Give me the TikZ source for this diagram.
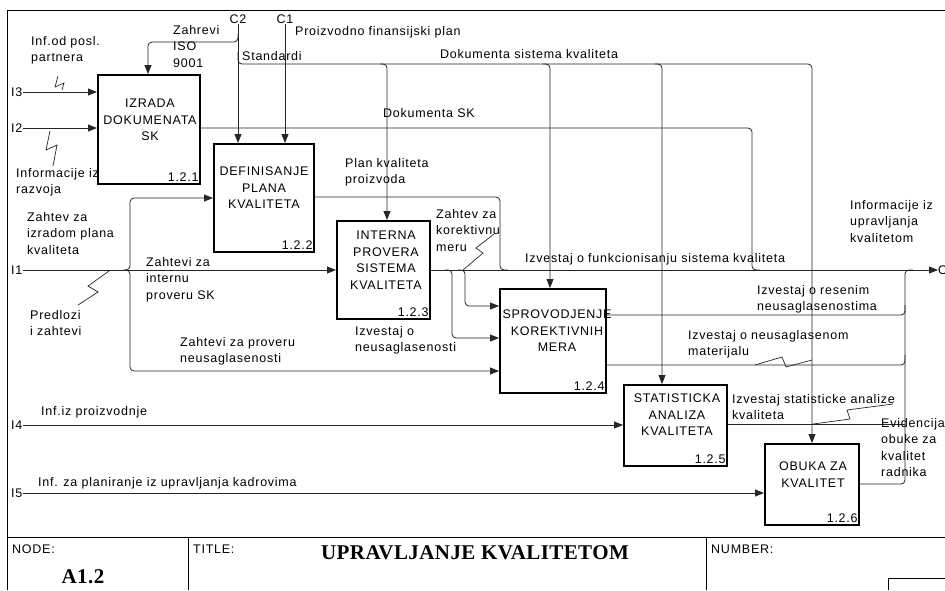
\documentclass[tikz,border=0pt]{standalone}
\usepackage{fontspec}
\setmainfont{Liberation Sans}[LetterSpace=6]
\newfontfamily\titleserif{Liberation Serif}[LetterSpace=2]
\usetikzlibrary{arrows.meta,calc}
\newcommand\diagfont{\fontsize{12.5}{16.5}\selectfont}
\newcommand\headfont{\titleserif\bfseries\fontsize{21}{24}\selectfont}

\tikzset{
  frame/.style={draw=black, line width=1pt},
  wire/.style={draw=black!85, line width=0.8pt},
  arr/.style={wire, -{Triangle[length=9pt,width=7pt]}},
  rnd/.style={rounded corners=4pt},
  squig/.style={draw=black!85, line width=0.7pt},
  fnbox/.style={draw=black, line width=1.8pt, anchor=north west, inner sep=0pt},
  fntext/.style={anchor=north, align=center, inner sep=0pt, font=\diagfont},
  fnnum/.style={anchor=south east, inner sep=0pt, font=\diagfont},
  lab/.style={anchor=north west, align=left, inner sep=0pt, font=\diagfont},
  port/.style={anchor=west, inner sep=0pt, font=\diagfont},
}

\begin{document}
\begin{tikzpicture}[x=1pt,y=-1pt]
\useasboundingbox (0,0) rectangle (945,590);

% sheet frame and title block
\draw[frame] (7,590) -- (7,10) -- (945,10);
\draw[frame] (7,537) -- (945,537);
\draw[frame] (188,537) -- (188,590);
\draw[frame] (706,537) -- (706,590);
\draw[frame] (888,590) -- (888,578) -- (950,578);
\node[lab] (nodelbl) at (12,545) {NODE:};
\node[lab] (titlelbl) at (193,545) {TITLE:};
\node[lab] (numlbl) at (711,545) {NUMBER:};
\node[font=\headfont, inner sep=0pt] (title) at (475,553) {UPRAVLJANJE KVALITETOM};
\node[font=\headfont, inner sep=0pt] (nodeid) at (83,577) {A1.2};

% activity boxes
\node[fnbox, minimum width=102pt, minimum height=109pt] (b1) at (97,74) {};
\node[fnbox, minimum width=100pt, minimum height=108pt] (b2) at (213,143) {};
\node[fnbox, minimum width=93pt, minimum height=98pt] (b3) at (336,220) {};
\node[fnbox, minimum width=106pt, minimum height=104pt] (b4) at (499,288) {};
\node[fnbox, minimum width=103pt, minimum height=81pt] (b5) at (623,384) {};
\node[fnbox, minimum width=94pt, minimum height=81pt] (b6) at (764,443) {};

\node[fntext] (b1t) at (150,99) {IZRADA\\DOKUMENATA\\SK};
\node[fntext] (b2t) at (264,167) {DEFINISANJE\\PLANA\\KVALITETA};
\node[fntext] (b3t) at (386,231) {INTERNA\\PROVERA\\SISTEMA\\KVALITETA};
\node[fntext] (b4t) at (557,310) {SPROVODJENJE\\KOREKTIVNIH\\MERA};
\node[fntext] (b5t) at (677,394) {STATISTICKA\\ANALIZA\\KVALITETA};
\node[fntext] (b6t) at (813,462) {OBUKA ZA\\KVALITET};

\node[fnnum] (b1n) at ($(b1.south east)+(-2,-3)$) {1.2.1};
\node[fnnum] (b2n) at ($(b2.south east)+(-2,-3)$) {1.2.2};
\node[fnnum] (b3n) at ($(b3.south east)+(-2,-3)$) {1.2.3};
\node[fnnum] (b4n) at ($(b4.south east)+(-2,-3)$) {1.2.4};
\node[fnnum] (b5n) at ($(b5.south east)+(-2,-3)$) {1.2.5};
\node[fnnum] (b6n) at ($(b6.south east)+(-2,-3)$) {1.2.6};

% boundary ports
\node[port] (i3) at (11,92) {I3};
\node[port] (i2) at (11,128) {I2};
\node[port] (i1) at (11,270) {I1};
\node[port] (i4) at (11,425) {I4};
\node[port] (i5) at (11,493) {I5};
\node[font=\diagfont, inner sep=0pt, anchor=south] (c2) at (238,24) {C2};
\node[font=\diagfont, inner sep=0pt, anchor=south] (c1) at (285,24) {C1};
\node[port] (o1) at (938,270) {O};

% inputs
\draw[arr] (i3.east) -- (b1.west |- i3.east);
\draw[arr] (i2.east) -- (b1.west |- i2.east);
\draw[arr] (i1.east) -- (b3.west |- i1.east);
\draw[arr] (i4.east) -- (b5.west |- i4.east);
\draw[arr] (i5.east) -- (b6.west |- i5.east);
\draw[arr,rnd] (124,270) -| (130,198) -- (b2.west |- 0,198);
\draw[arr,rnd] (124,270) -| (130,371) -- (b4.west |- 0,371);

% controls
\draw[arr] (c2.south) -- (c2.south |- b2.north);
\draw[arr] (c1.south) -- (c1.south |- b2.north);
\draw[arr,rnd] (238,34) |- (148,42) -- (b1.north -| 148,0);
\draw[arr,rnd] (238,52) |- (812,64) -- (b6.north -| 812,0);
\draw[arr,rnd] (380,64) -| (b3.north -| 387,0);
\draw[arr,rnd] (543,64) -| (b4.north -| 550,0);
\draw[arr,rnd] (655,64) -| (b5.north -| 662,0);

% outputs
\draw[wire,rnd] (b1.east |- 0,128) -| (752,270) -- (760,270);
\draw[wire,rnd] (b2.east |- 0,197) -| (500,270) -- (508,270);
\draw[arr] (b3.east |- o1.west) -- (o1.west);
\draw[arr,rnd] (445,270) -| (452,338) -- (b4.west |- 0,338);
\draw[arr,rnd] (458,270) -| (465,306) -- (b4.west |- 0,306);
\draw[wire,rnd] (b4.east |- 0,315) -| (905,305);
\draw[wire,rnd] (b4.east |- 0,365) -| (905,355);
\draw[wire] (b5.east |- 0,424) -- (905,424);
\draw[wire,rnd] (b6.east |- 0,484) -| (905,270) -- (913,270);

% arrow labels
\node[lab] (l1) at (31,36) {Inf.od posl.\\partnera};
\node[lab] (l2) at (16,168) {Informacije iz\\razvoja};
\node[lab] (l3) at (173,25) {Zahrevi\\ISO\\9001};
\node[lab] (l4) at (242,51) {Standardi};
\node[lab] (l5) at (295,26) {Proizvodno finansijski plan};
\node[lab] (l6) at (440,49) {Dokumenta sistema kvaliteta};
\node[lab] (l7) at (383,108) {Dokumenta SK};
\node[lab] (l8) at (345,158) {Plan kvaliteta\\proizvoda};
\node[lab] (l9) at (27,212) {Zahtev za\\izradom plana\\kvaliteta};
\node[lab] (l10) at (146,257) {Zahtevi za\\internu\\proveru SK};
\node[lab] (l11) at (30,310) {Predlozi\\i zahtevi};
\node[lab] (l12) at (180,337) {Zahtevi za proveru\\neusaglasenosti};
\node[lab] (l13) at (436,209) {Zahtev za\\korektivnu\\meru};
\node[lab] (l14) at (355,326) {Izvestaj o\\neusaglasenosti};
\node[lab] (l15) at (525,253) {Izvestaj o funkcionisanju sistema kvaliteta};
\node[lab] (l16) at (850,200) {Informacije iz\\upravljanja\\kvalitetom};
\node[lab] (l17) at (757,285) {Izvestaj o resenim\\neusaglasenostima};
\node[lab] (l18) at (688,330) {Izvestaj o neusaglasenom\\materijalu};
\node[lab] (l19) at (732,394) {Izvestaj statisticke analize\\kvaliteta};
\node[lab] (l20) at (881,418) {Evidencija\\obuke za\\kvalitet\\radnika};
\node[lab] (l21) at (41,406) {Inf.iz proizvodnje};
\node[lab] (l22) at (38,477) {Inf. za planiranje iz upravljanja kadrovima};

% label squiggles
\draw[squig] (58,76) -- (55,87) -- (64,83) -- (62,90);
\draw[squig] (50,131) -- (46,150) -- (57,145) -- (53,166);
\draw[squig] (109,271) -- (88,286) -- (98,292) -- (78,305);
\draw[squig] (463,270) -- (483,253) -- (476,248) -- (494,234);
\draw[squig] (755,365) -- (782,357) -- (786,367) -- (812,360);
\draw[squig] (813,424) -- (850,419) -- (847,410) -- (893,404);
\end{tikzpicture}
\end{document}
